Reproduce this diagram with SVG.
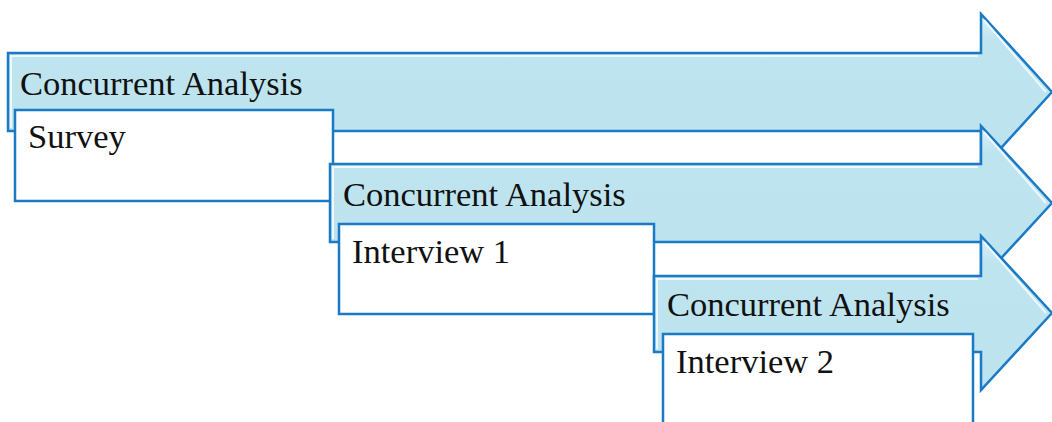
<svg xmlns="http://www.w3.org/2000/svg" width="1052" height="422" viewBox="0 0 1052 422">
  <defs>
    <linearGradient id="shaftGrad" x1="0" y1="0" x2="0" y2="1">
      <stop offset="0" stop-color="#d9f1f8"/>
      <stop offset="0.18" stop-color="#bee4ef"/>
      <stop offset="1" stop-color="#bde3ee"/>
    </linearGradient>
  </defs>
  <style>
    .arrow { fill: url(#shaftGrad); stroke: #1b7ac6; stroke-width: 2.5; stroke-linejoin: miter; }
    .bevel { fill: none; stroke: #ffffff; stroke-opacity: 0.75; stroke-width: 2; }
    .box { fill: #ffffff; stroke: #1b7ac6; stroke-width: 2.5; }
    .label { font-family: "Liberation Serif", "Times New Roman", serif; font-size: 34.5px; fill: #111111; }
  </style>

  <!-- phase 1: survey -->
  <g id="phase1-arrow">
    <polygon class="arrow" points="8,53 981,53 981,14 1052,92 981,170 981,131 8,131"/>
    <polyline class="bevel" points="11,128 11,56 978,56"/>
    <polyline class="bevel" points="984,20 1046,92"/>
    <text class="label" x="20" y="95">Concurrent Analysis</text>
  </g>
  <g id="survey">
    <rect class="box" x="15" y="110" width="318" height="91"/>
    <text class="label" x="28" y="148">Survey</text>
  </g>

  <!-- phase 2: interview 1 -->
  <g id="phase2-arrow">
    <polygon class="arrow" points="330,164 981,164 981,126 1052,203 981,280 981,242 330,242"/>
    <polyline class="bevel" points="333,239 333,167 978,167"/>
    <polyline class="bevel" points="984,132 1046,203"/>
    <text class="label" x="343" y="206">Concurrent Analysis</text>
  </g>
  <g id="interview1">
    <rect class="box" x="339" y="224" width="315" height="90"/>
    <text class="label" x="352" y="263">Interview 1</text>
  </g>

  <!-- phase 3: interview 2 -->
  <g id="phase3-arrow">
    <polygon class="arrow" points="654,276 981,276 981,236 1052,313 981,390 981,352 654,352"/>
    <polyline class="bevel" points="657,349 657,279 978,279"/>
    <polyline class="bevel" points="984,242 1046,313"/>
    <text class="label" x="667" y="316">Concurrent Analysis</text>
  </g>
  <g id="interview2">
    <rect class="box" x="663" y="334" width="310" height="100"/>
    <text class="label" x="676" y="373">Interview 2</text>
  </g>

  <g id="connectors"></g>
</svg>
